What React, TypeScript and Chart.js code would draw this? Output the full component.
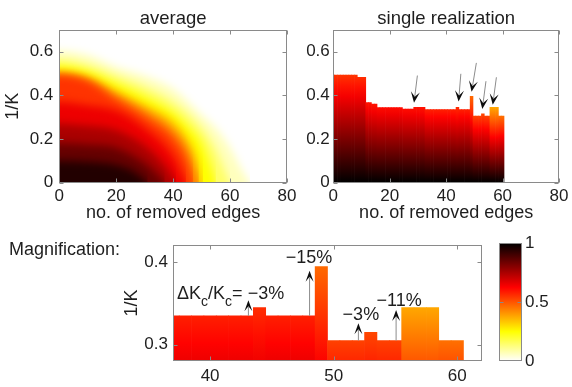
import React, { useEffect, useRef } from "react";
import { Chart, registerables } from "chart.js";

Chart.register(...registerables);

const FONT = '"Liberation Sans", Arial, Helvetica, sans-serif';
const TEXT = "#1e1e1e";
const FRAME = "#8a8a8a";

// ---------- ticks ----------
const X_TICKS_TOP = [0, 20, 40, 60, 80];
const Y_TICKS_TOP = [0, 0.2, 0.4, 0.6];
const X_TICKS_MAG = [40, 50, 60];
const Y_TICKS_MAG = [0.3, 0.4];
const CB_TICKS = [0, 0.5, 1];

// ---------- single realization (threshold 1/Kc vs removed edges) ----------
const REMOVED_EDGES = [
  0, 1, 2, 3, 4, 5, 6, 7, 8, 9, 10, 11, 12, 13, 14, 15, 16, 17, 18, 19, 20,
  21, 22, 23, 24, 25, 26, 27, 28, 29, 30, 31, 32, 33, 34, 35, 36, 37, 38, 39, 40,
  41, 42, 43, 44, 45, 46, 47, 48, 49, 50, 51, 52, 53, 54, 55, 56, 57, 58, 59, 60,
];
const THRESHOLD = [
  0.493, 0.493, 0.493, 0.493, 0.493, 0.493, 0.493, 0.493, 0.493,
  0.483, 0.483, 0.483,
  0.367, 0.367,
  0.36, 0.36,
  0.344, 0.344, 0.344, 0.344, 0.344, 0.344, 0.344, 0.344, 0.344,
  0.337, 0.337, 0.337, 0.337,
  0.345, 0.345, 0.345, 0.345,
  0.335, 0.335, 0.335, 0.335, 0.335, 0.335, 0.335, 0.335, 0.335, 0.335, 0.335,
  0.345,
  0.335, 0.335, 0.335, 0.335,
  0.395,
  0.305, 0.305, 0.305,
  0.315,
  0.305, 0.305,
  0.345, 0.345, 0.345,
  0.305, 0.305,
];
// colour level reached at the top of each column (1 = black, 0 = white)
const TOP_LEVEL = [
  0.55, 0.55, 0.55, 0.55, 0.55, 0.55, 0.55, 0.55, 0.55,
  0.56, 0.56, 0.56,
  0.6, 0.6, 0.6, 0.6,
  0.61, 0.61, 0.61, 0.61, 0.61, 0.61, 0.61, 0.61, 0.61, 0.61, 0.61, 0.61, 0.61,
  0.6, 0.6, 0.6, 0.6,
  0.58, 0.58, 0.58, 0.58, 0.58, 0.58, 0.58, 0.58, 0.58, 0.58, 0.58,
  0.56,
  0.58, 0.58, 0.58, 0.58,
  0.47,
  0.53, 0.53, 0.53,
  0.52,
  0.53, 0.53,
  0.38, 0.38, 0.38,
  0.46, 0.46,
];

// ---------- average: contour lines of the colour level ----------
const CONTOUR_LEVELS = [0.9, 0.8, 0.7, 0.6, 0.5, 0.4, 0.3, 0.2, 0.1, 0.03];
const AVG_C90 = [[-3, 0.1], [0, 0.1], [10, 0.095], [20, 0.08], [26, 0.05], [31, 0]];
const AVG_C80 = [[-3, 0.18], [0, 0.18], [10, 0.175], [20, 0.16], [30, 0.09], [35, 0.03], [37, 0]];
const AVG_C70 = [[-3, 0.27], [0, 0.27], [10, 0.26], [20, 0.24], [30, 0.17], [37, 0.08], [41, 0]];
const AVG_C60 = [[-3, 0.37], [0, 0.37], [10, 0.355], [20, 0.33], [30, 0.25], [40, 0.12], [43, 0.04], [44.5, 0]];
const AVG_C50 = [[-3, 0.492], [0, 0.492], [10, 0.465], [20, 0.38], [30, 0.3], [40, 0.2], [45, 0.09], [47, 0]];
const AVG_C40 = [[-3, 0.495], [0, 0.495], [10, 0.472], [20, 0.4], [30, 0.33], [40, 0.24], [45, 0.15], [49, 0]];
const AVG_C30 = [[-3, 0.503], [0, 0.503], [10, 0.482], [20, 0.42], [30, 0.355], [40, 0.28], [45, 0.2], [48, 0.12], [50.5, 0]];
const AVG_C20 = [[-3, 0.535], [0, 0.535], [10, 0.51], [20, 0.455], [30, 0.395], [40, 0.32], [45, 0.26], [50, 0.18], [53, 0.08], [55, 0]];
const AVG_C10 = [[-3, 0.565], [0, 0.565], [10, 0.54], [20, 0.49], [30, 0.44], [40, 0.37], [50, 0.25], [55, 0.15], [58, 0.06], [60, 0]];
const AVG_C03 = [[-3, 0.605], [0, 0.605], [10, 0.585], [20, 0.53], [30, 0.49], [40, 0.43], [50, 0.31], [55, 0.25], [60, 0.16], [64, 0.06], [67, 0]];
const AVG_CONTOURS = [AVG_C90, AVG_C80, AVG_C70, AVG_C60, AVG_C50, AVG_C40, AVG_C30, AVG_C20, AVG_C10, AVG_C03];

// ---------- annotations ----------
const SR_ARROW_FROM = [[29.8, 0.491], [45.2, 0.499], [50.7, 0.549], [54.1, 0.465], [57.8, 0.483]];
const SR_ARROW_TO = [[28.6, 0.366], [44.4, 0.372], [49.0, 0.416], [52.8, 0.337], [56.5, 0.357]];

const MAG_ARROW_X = [43.1, 48.05, 52.0, 55.05];
const MAG_ARROW_FROM = [0.335, 0.335, 0.305, 0.305];
const MAG_ARROW_TO = [0.354, 0.39, 0.326, 0.342];
const MAG_LABELS = ["\u221215%", "\u22123%", "\u221211%"];
const MAG_LABEL_POS = [[48.0, 0.4058], [52.2, 0.336], [55.3, 0.3535]];
const MAG_FIRST_LABEL_POS = [37.33, 0.3628];

// reversed "hot" colormap: 1 -> black, 0 -> white
function hotR(v: number): string {
  const t = Math.min(1, Math.max(0, 1 - v));
  const r = Math.min(1, t / 0.375);
  const g = Math.min(1, Math.max(0, (t - 0.375) / 0.375));
  const b = Math.min(1, Math.max(0, (t - 0.75) / 0.25));
  return `rgb(${Math.round(r * 255)},${Math.round(g * 255)},${Math.round(b * 255)})`;
}

function axis(o: any) {
  return {
    type: "linear",
    position: o.position,
    min: o.min,
    max: o.max,
    bounds: "data",
    offset: false,
    grid: { display: false, drawTicks: false },
    border: { display: false },
    afterBuildTicks: (s: any) => {
      s.ticks = o.ticks.map((v: number) => ({ value: v }));
    },
    afterFit: (s: any) => {
      if (o.horizontal) s.height = o.size;
      else s.width = o.size;
    },
    ticks: {
      padding: o.pad,
      font: { family: FONT, size: 17 },
      color: TEXT,
      autoSkip: false,
      maxRotation: 0,
      minRotation: 0,
      callback: (v: any) => String(+Number(v).toFixed(3)),
    },
    title: o.title
      ? { display: true, text: o.title, font: { family: FONT, size: 18 }, color: TEXT, padding: o.titlePad }
      : { display: false },
  };
}

function framePlugin(xt: number[], yt: number[], len = 4) {
  return {
    id: "frame",
    afterDatasetsDraw(chart: any) {
      const { ctx, chartArea: a, scales } = chart;
      const L = Math.round(a.left) + 0.5;
      const R = Math.round(a.right) - 0.5;
      const T = Math.round(a.top) + 0.5;
      const B = Math.round(a.bottom) - 0.5;
      ctx.save();
      ctx.strokeStyle = FRAME;
      ctx.lineWidth = 1;
      ctx.strokeRect(L, T, R - L, B - T);
      ctx.beginPath();
      if (scales.x && xt.length) {
        xt.forEach((v) => {
          const p = Math.round(scales.x.getPixelForValue(v)) + 0.5;
          ctx.moveTo(p, B);
          ctx.lineTo(p, B - len);
          ctx.moveTo(p, T);
          ctx.lineTo(p, T + len);
        });
      }
      yt.forEach((v) => {
        const p = Math.round(scales.y.getPixelForValue(v)) + 0.5;
        ctx.moveTo(L, p);
        ctx.lineTo(L + len, p);
        ctx.moveTo(R, p);
        ctx.lineTo(R - len, p);
      });
      ctx.stroke();
      ctx.restore();
    },
  };
}

function titlePlugin(text: string) {
  return {
    id: "paneltitle",
    afterDraw(chart: any) {
      const { ctx, chartArea: a } = chart;
      ctx.save();
      ctx.font = `18.5px ${FONT}`;
      ctx.fillStyle = TEXT;
      ctx.textAlign = "center";
      ctx.textBaseline = "middle";
      ctx.fillText(text, (a.left + a.right) / 2, a.top - 11);
      ctx.restore();
    },
  };
}

const blurPlugin = {
  id: "softfill",
  beforeDatasetsDraw(chart: any) {
    chart.ctx.save();
    chart.ctx.filter = "blur(4px)";
  },
  afterDatasetsDraw(chart: any) {
    chart.ctx.restore();
  },
};

function drawArrow(ctx: any, x0: number, y0: number, x1: number, y1: number, hl: number, hw: number) {
  const dx = x1 - x0;
  const dy = y1 - y0;
  const d = Math.hypot(dx, dy) || 1;
  const ux = dx / d;
  const uy = dy / d;
  const nx = -uy;
  const ny = ux;
  ctx.save();
  ctx.strokeStyle = "#8c8c8c";
  ctx.lineWidth = 1;
  ctx.beginPath();
  ctx.moveTo(x0, y0);
  ctx.lineTo(x1 - ux * hl * 0.6, y1 - uy * hl * 0.6);
  ctx.stroke();
  const bx = x1 - ux * hl;
  const by = y1 - uy * hl;
  ctx.fillStyle = "#0d0d0d";
  ctx.beginPath();
  ctx.moveTo(x1, y1);
  ctx.lineTo(bx + (nx * hw) / 2, by + (ny * hw) / 2);
  ctx.lineTo(x1 - ux * hl * 0.55, y1 - uy * hl * 0.55);
  ctx.lineTo(bx - (nx * hw) / 2, by - (ny * hw) / 2);
  ctx.closePath();
  ctx.fill();
  ctx.restore();
}

function columnGradient(c: any) {
  const chart = c.chart;
  const ys = chart.scales && chart.scales.y;
  const i = c.dataIndex;
  if (!ys || i == null || !chart.chartArea) return hotR(0.6);
  const top = THRESHOLD[i];
  const vt = TOP_LEVEL[i];
  const y0 = ys.getPixelForValue(0);
  const y1 = ys.getPixelForValue(top);
  const g = chart.ctx.createLinearGradient(0, y0, 0, y1);
  for (let k = 0; k <= 10; k++) {
    const f = k / 10;
    g.addColorStop(f, hotR(1 - (1 - vt) * f));
  }
  return g;
}

function barDataset() {
  return {
    data: REMOVED_EDGES.map((x, i) => ({ x, y: THRESHOLD[i] })),
    backgroundColor: columnGradient,
    borderWidth: 0,
    barPercentage: 1,
    categoryPercentage: 1,
  };
}

const commonOpts = {
  responsive: false,
  animation: false,
  devicePixelRatio: 1,
  events: [],
};

function cfgAverage(): any {
  return {
    type: "line",
    data: {
      datasets: AVG_CONTOURS.map((pts, i) => {
        const upper = i === 0 ? 1 : CONTOUR_LEVELS[i - 1];
        const band = (CONTOUR_LEVELS[i] + upper) / 2;
        return {
          data: pts.map(([x, y]) => ({ x, y })),
          fill: { value: -0.06 },
          backgroundColor: hotR(band),
          borderWidth: 0,
          pointRadius: 0,
          cubicInterpolationMode: "monotone",
        };
      }),
    },
    options: {
      ...commonOpts,
      layout: { padding: { left: 0, top: 30, right: 13, bottom: 0 } },
      plugins: { legend: { display: false }, tooltip: { enabled: false } },
      scales: {
        x: axis({ min: 0, max: 80, ticks: X_TICKS_TOP, horizontal: true, size: 47.5, pad: 3.5, title: "no. of removed edges", titlePad: { top: 0, bottom: 6.2 }, position: "bottom" }),
        y: axis({ min: 0, max: 0.7, ticks: Y_TICKS_TOP, horizontal: false, size: 59.3, pad: 6, title: "1/K", titlePad: { top: 2.2, bottom: 0 }, position: "left" }),
      },
    },
    plugins: [blurPlugin, framePlugin(X_TICKS_TOP, Y_TICKS_TOP), titlePlugin("average")],
  };
}

function cfgSingle(): any {
  return {
    type: "bar",
    data: { datasets: [barDataset()] },
    options: {
      ...commonOpts,
      layout: { padding: { left: 0, top: 30, right: 9.3, bottom: 0 } },
      plugins: { legend: { display: false }, tooltip: { enabled: false } },
      scales: {
        x: axis({ min: 0, max: 80, ticks: X_TICKS_TOP, horizontal: true, size: 47.5, pad: 3.5, title: "no. of removed edges", titlePad: { top: 0, bottom: 6.2 }, position: "bottom" }),
        y: axis({ min: 0, max: 0.7, ticks: Y_TICKS_TOP, horizontal: false, size: 43.3, pad: 3.5, position: "left" }),
      },
    },
    plugins: [
      framePlugin(X_TICKS_TOP, Y_TICKS_TOP),
      titlePlugin("single realization"),
      {
        id: "srarrows",
        afterDraw(chart: any) {
          const { ctx, scales } = chart;
          SR_ARROW_FROM.forEach((f, i) => {
            const t = SR_ARROW_TO[i];
            drawArrow(
              ctx,
              scales.x.getPixelForValue(f[0]),
              scales.y.getPixelForValue(f[1]),
              scales.x.getPixelForValue(t[0]),
              scales.y.getPixelForValue(t[1]),
              11,
              9
            );
          });
        },
      },
    ],
  };
}

function cfgMag(): any {
  return {
    type: "bar",
    data: { datasets: [barDataset()] },
    options: {
      ...commonOpts,
      layout: { padding: { left: 120, top: 10, right: 8, bottom: 0 } },
      plugins: { legend: { display: false }, tooltip: { enabled: false } },
      scales: {
        x: axis({ min: 37, max: 62, ticks: X_TICKS_MAG, horizontal: true, size: 26, pad: 5.5, position: "bottom" }),
        y: axis({ min: 0.28, max: 0.421, ticks: Y_TICKS_MAG, horizontal: false, size: 53, pad: 5, title: "1/K", titlePad: { top: 1.2, bottom: 0 }, position: "left" }),
      },
    },
    plugins: [
      framePlugin(X_TICKS_MAG, Y_TICKS_MAG),
      {
        id: "magnotes",
        afterDraw(chart: any) {
          const { ctx, scales } = chart;
          const sx = (v: number) => scales.x.getPixelForValue(v);
          const sy = (v: number) => scales.y.getPixelForValue(v);
          MAG_ARROW_X.forEach((x, i) => {
            drawArrow(ctx, sx(x), sy(MAG_ARROW_FROM[i]), sx(x), sy(MAG_ARROW_TO[i]), 11, 8);
          });
          ctx.save();
          ctx.fillStyle = TEXT;
          ctx.textBaseline = "middle";
          ctx.textAlign = "center";
          ctx.font = `18px ${FONT}`;
          MAG_LABELS.forEach((t, i) => {
            ctx.fillText(t, sx(MAG_LABEL_POS[i][0]), sy(MAG_LABEL_POS[i][1]));
          });
          // ΔKc/Kc = −3%
          ctx.textAlign = "left";
          ctx.textBaseline = "alphabetic";
          let x = sx(MAG_FIRST_LABEL_POS[0]);
          const base = sy(MAG_FIRST_LABEL_POS[1]) + 6.5;
          const parts: [string, boolean][] = [["\u0394K", false], ["c", true], ["/K", false], ["c", true], ["= \u22123%", false]];
          parts.forEach(([s, sub]) => {
            ctx.font = sub ? `14px ${FONT}` : `18px ${FONT}`;
            ctx.fillText(s, x, sub ? base + 7 : base);
            x += ctx.measureText(s).width;
          });
          // side label
          ctx.font = `18px ${FONT}`;
          ctx.textBaseline = "middle";
          ctx.fillText("Magnification:", 9, 20);
          ctx.restore();
        },
      },
    ],
  };
}

function cfgColorbar(): any {
  return {
    type: "bar",
    data: {
      labels: ["level"],
      datasets: [
        {
          data: [1],
          borderWidth: 0,
          barPercentage: 1,
          categoryPercentage: 1,
          backgroundColor: (c: any) => {
            const chart = c.chart;
            const ys = chart.scales && chart.scales.y;
            if (!ys || !chart.chartArea) return hotR(0.5);
            const g = chart.ctx.createLinearGradient(0, ys.getPixelForValue(0), 0, ys.getPixelForValue(1));
            for (let k = 0; k <= 40; k++) g.addColorStop(k / 40, hotR(k / 40));
            return g;
          },
        },
      ],
    },
    options: {
      ...commonOpts,
      layout: { padding: { left: 9, top: 10, right: 0, bottom: 26 } },
      plugins: { legend: { display: false }, tooltip: { enabled: false } },
      scales: {
        x: { display: false },
        y: axis({ min: 0, max: 1, ticks: CB_TICKS, horizontal: false, size: 50, pad: 3, position: "right" }),
      },
    },
    plugins: [framePlugin([], [0.5])],
  };
}

export default function App() {
  const aRef = useRef<HTMLCanvasElement>(null);
  const bRef = useRef<HTMLCanvasElement>(null);
  const cRef = useRef<HTMLCanvasElement>(null);
  const dRef = useRef<HTMLCanvasElement>(null);

  useEffect(() => {
    const charts: Chart[] = [];
    if (aRef.current) charts.push(new Chart(aRef.current, cfgAverage()));
    if (bRef.current) charts.push(new Chart(bRef.current, cfgSingle()));
    if (cRef.current) charts.push(new Chart(cRef.current, cfgMag()));
    if (dRef.current) charts.push(new Chart(dRef.current, cfgColorbar()));
    return () => charts.forEach((c) => c.destroy());
  }, []);

  const abs = (l: number, t: number, w: number, h: number): React.CSSProperties => ({
    position: "absolute",
    left: l,
    top: t,
    width: w,
    height: h,
  });

  return (
    <div style={{ position: "absolute", left: 0, top: 0, width: 572, height: 387, background: "#fff", overflow: "hidden" }}>
      <canvas ref={aRef} width={300} height={230} style={abs(0, 0, 300, 230)} />
      <canvas ref={bRef} width={282} height={230} style={abs(290, 0, 282, 230)} />
      <canvas ref={cRef} width={490} height={157} style={abs(0, 230, 490, 157)} />
      <canvas ref={dRef} width={82} height={157} style={abs(490, 230, 82, 157)} />
    </div>
  );
}
